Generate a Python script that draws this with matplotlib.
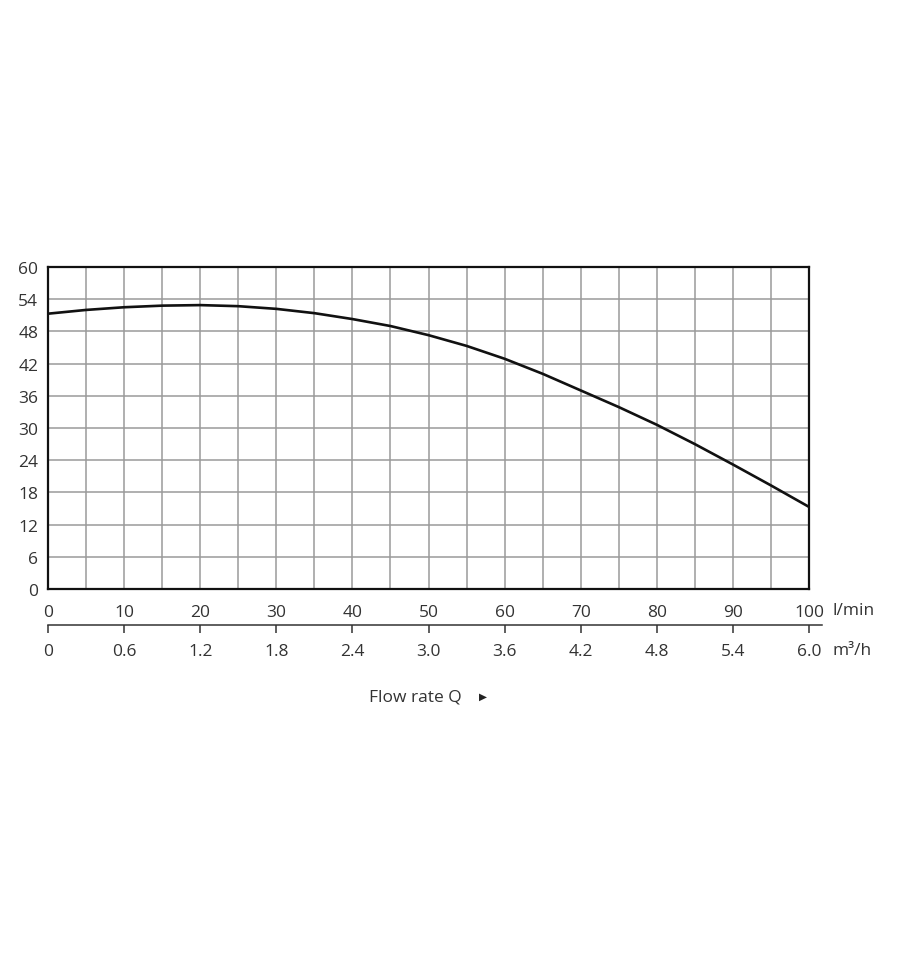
import numpy as np
import matplotlib
matplotlib.use("Agg")
import matplotlib.pyplot as plt
import matplotlib.ticker as ticker

plt.rcParams['font.family'] = ['Open Sans', 'DejaVu Sans']

# pump curve (l/min vs head)
flow = [0, 5, 10, 15, 20, 25, 30, 35, 40, 45, 50,
        55, 60, 65, 70, 75, 80, 85, 90, 95, 100]
head = [51.3, 52.0, 52.5, 52.8, 52.9, 52.7, 52.2, 51.4, 50.3, 49.0, 47.3,
        45.3, 42.9, 40.1, 37.0, 33.9, 30.6, 27.0, 23.2, 19.3, 15.3]

lmin_ticks = [0, 10, 20, 30, 40, 50, 60, 70, 80, 90, 100]
m3h_labels = ['0', '0.6', '1.2', '1.8', '2.4', '3.0', '3.6', '4.2', '4.8', '5.4', '6.0']
head_ticks = [0, 6, 12, 18, 24, 30, 36, 42, 48, 54, 60]

W, H = 900, 962
fs = 12.5
fig = plt.figure(figsize=(9, 9.62), dpi=100)

ax = fig.add_axes([48/W, 1-590/H, (809-48)/W, (590-268)/H])
ax.plot(flow, head, color='#111111', lw=1.9, zorder=3)
ax.set_xlim(0, 100)
ax.set_ylim(0, 60)
ax.xaxis.set_major_locator(ticker.FixedLocator(lmin_ticks))
ax.xaxis.set_minor_locator(ticker.MultipleLocator(5))
ax.set_yticks(head_ticks)
ax.grid(True, which='both', color='#9a9a9a', lw=1.1)
ax.set_axisbelow(True)
for s in ax.spines.values():
    s.set_linewidth(1.6)
    s.set_color('#111111')
ax.tick_params(axis='both', which='both', length=0, labelsize=fs, labelcolor='#333333')
ax.tick_params(axis='x', pad=11)
ax.tick_params(axis='y', pad=7)

# second scale in m3/h
ax2 = fig.add_axes([48/W, 1-626/H, (822-48)/W, 0.001])
ax2.set_xlim(0, 100 * (822-48) / (809-48))
ax2.set_ylim(0, 1)
for k in ['top', 'left', 'right']:
    ax2.spines[k].set_visible(False)
ax2.spines['bottom'].set_linewidth(1.1)
ax2.spines['bottom'].set_color('#333333')
ax2.set_yticks([])
ax2.set_xticks(lmin_ticks)
ax2.set_xticklabels(m3h_labels)
ax2.tick_params(axis='x', direction='out', length=6, width=1.1, color='#333333',
                labelsize=fs, labelcolor='#333333', pad=7)

fig.text(832/W, 1-611/H, 'l/min', fontsize=fs, color='#333333', va='center', ha='left')
fig.text(832/W, 1-651/H, 'm³/h', fontsize=fs, color='#333333', va='center', ha='left')
fig.text(369/W, 1-697/H, 'Flow rate Q', fontsize=fs, color='#333333', va='center', ha='left')
fig.text(483/W, 1-697/H, '▶', fontsize=7.5, color='#222222', va='center', ha='center',
         family=['DejaVu Sans'])

fig.savefig('out.png', dpi=100, facecolor='white')
